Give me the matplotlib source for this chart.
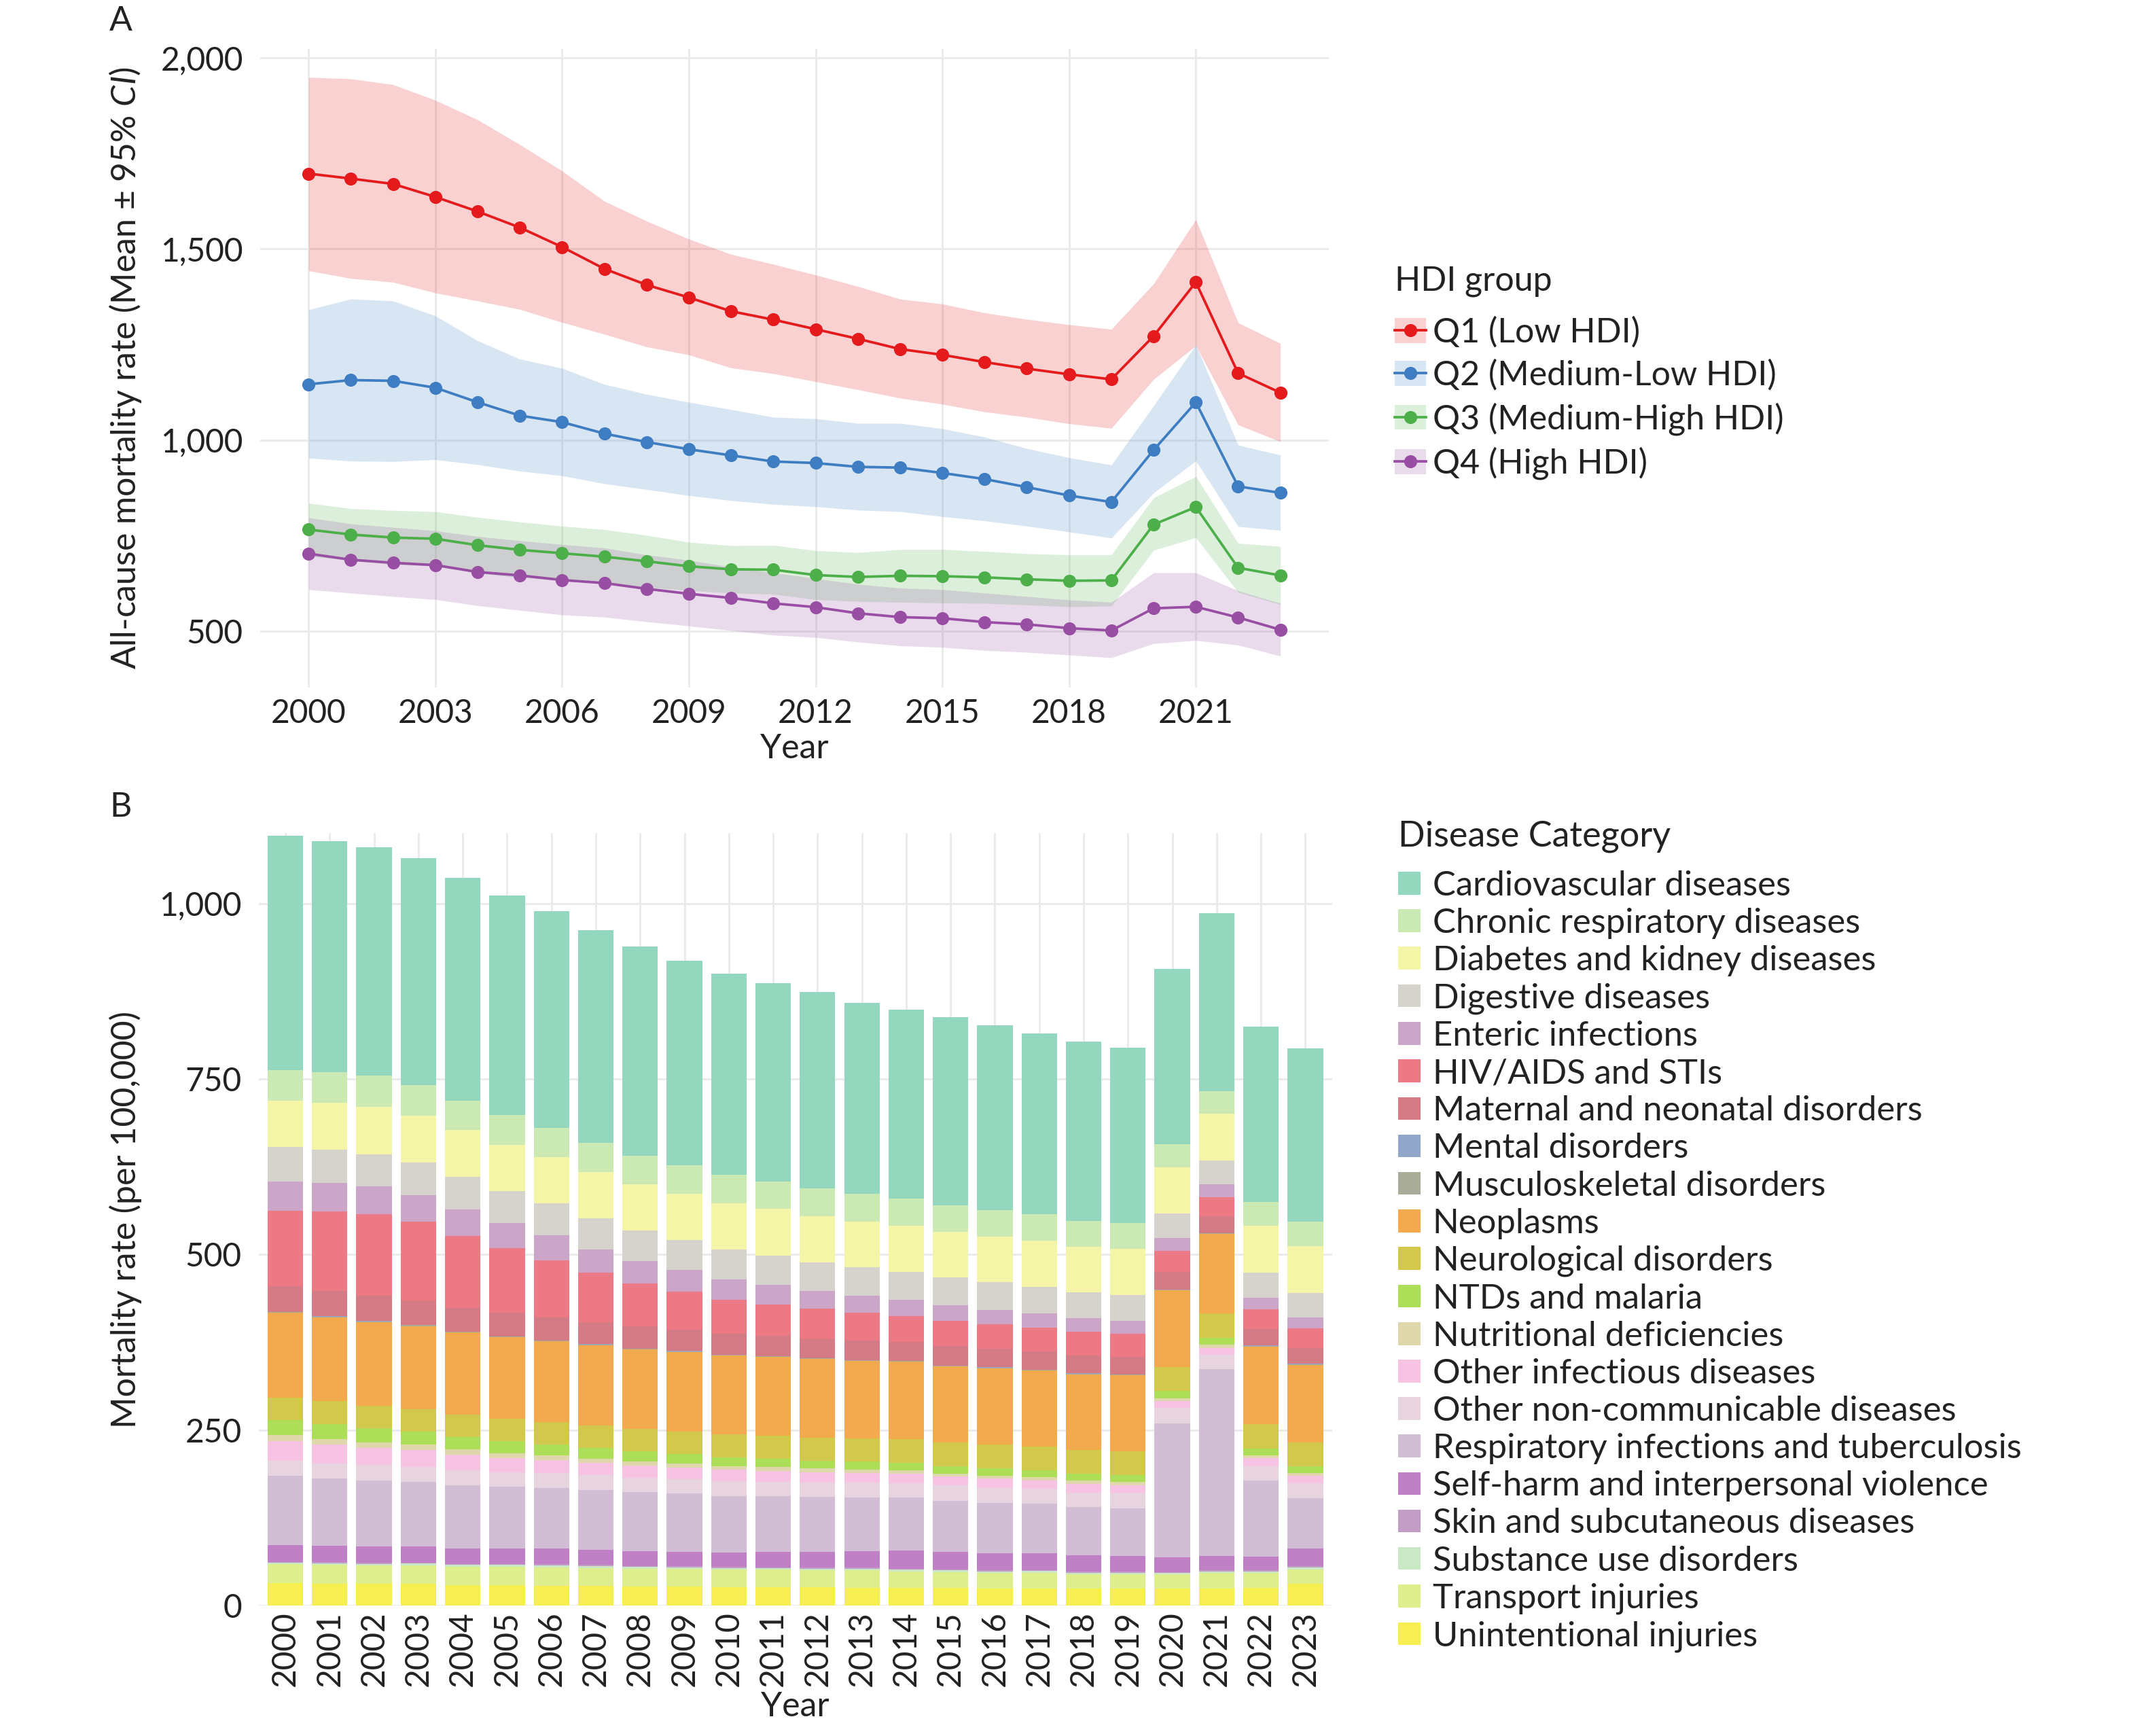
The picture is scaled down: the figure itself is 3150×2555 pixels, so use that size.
import numpy as np
import matplotlib
matplotlib.use("Agg")
import matplotlib.pyplot as plt
from matplotlib.patches import Patch
from matplotlib.lines import Line2D
from matplotlib.ticker import FuncFormatter

plt.rcParams['font.family'] = ['Lato', 'DejaVu Sans']
plt.rcParams['mathtext.fontset'] = 'custom'
plt.rcParams['mathtext.rm'] = 'Lato'
plt.rcParams['mathtext.it'] = 'Lato:italic'

TXT = '#222222'
GRID = '#EBEBEB'

# ---------------- data: panel A ----------------
years = list(range(2000, 2024))

q1_mean = [1697, 1684, 1670, 1636, 1598, 1556, 1505, 1448, 1406, 1373, 1337, 1315,
           1290, 1265, 1238, 1223, 1204, 1187, 1172, 1159, 1272, 1413, 1175, 1124]
q1_hi = [1949, 1945, 1930, 1889, 1838, 1773, 1704, 1625, 1573, 1526, 1486, 1460,
         1432, 1402, 1369, 1356, 1333, 1316, 1302, 1290, 1409, 1577, 1307, 1253]
q1_lo = [1443, 1423, 1413, 1385, 1364, 1342, 1308, 1277, 1244, 1223, 1189, 1174,
         1153, 1132, 1110, 1094, 1074, 1060, 1043, 1031, 1159, 1247, 1040, 996]

q2_mean = [1146, 1157, 1155, 1137, 1099, 1064, 1047, 1017, 995, 976, 960, 944,
           940, 930, 928, 914, 898, 877, 855, 838, 974, 1099, 879, 862]
q2_hi = [1341, 1369, 1364, 1325, 1260, 1212, 1188, 1146, 1120, 1099, 1080, 1060,
         1056, 1044, 1044, 1030, 1008, 978, 954, 935, 1090, 1249, 987, 961]
q2_lo = [953, 945, 944, 949, 936, 919, 907, 886, 871, 855, 842, 832,
         826, 817, 813, 800, 789, 775, 760, 744, 862, 946, 774, 764]

q3_mean = [766, 753, 745, 742, 725, 713, 704, 695, 683, 670, 662, 661,
           647, 642, 645, 644, 641, 636, 632, 633, 779, 825, 666, 646]
q3_hi = [835, 821, 816, 813, 798, 786, 775, 766, 751, 733, 724, 725,
         711, 706, 714, 714, 709, 703, 700, 700, 849, 905, 730, 722]
q3_lo = [697, 685, 674, 671, 652, 640, 633, 624, 615, 607, 600, 597,
         583, 578, 576, 574, 573, 569, 564, 566, 712, 745, 602, 570]

q4_mean = [703, 687, 679, 673, 655, 646, 634, 626, 611, 598, 587, 573,
           563, 547, 537, 534, 524, 518, 508, 502, 560, 564, 536, 504]
q4_hi = [797, 781, 772, 763, 748, 737, 727, 718, 700, 686, 668, 653,
         638, 623, 613, 609, 600, 591, 582, 576, 653, 653, 606, 573]
q4_lo = [609, 600, 591, 583, 567, 555, 543, 537, 525, 514, 502, 490,
         484, 472, 462, 458, 450, 445, 438, 431, 468, 476, 464, 435]

groups = ['Q1 (Low HDI)', 'Q2 (Medium-Low HDI)', 'Q3 (Medium-High HDI)', 'Q4 (High HDI)']
group_colors = ['#E41A1C', '#3F7DC2', '#4DAF4A', '#984EA3']

# ---------------- data: panel B ----------------
categories = ['Cardiovascular diseases', 'Chronic respiratory diseases',
              'Diabetes and kidney diseases', 'Digestive diseases', 'Enteric infections',
              'HIV/AIDS and STIs', 'Maternal and neonatal disorders', 'Mental disorders',
              'Musculoskeletal disorders', 'Neoplasms', 'Neurological disorders',
              'NTDs and malaria', 'Nutritional deficiencies', 'Other infectious diseases',
              'Other non-communicable diseases', 'Respiratory infections and tuberculosis',
              'Self-harm and interpersonal violence', 'Skin and subcutaneous diseases',
              'Substance use disorders', 'Transport injuries', 'Unintentional injuries']
cat_colors = ['#93D8BE', '#CBE9B2', '#F5F5A8', '#D5D3CB', '#CCA6C8', '#EC7984',
              '#D47B86', '#91A7C9', '#A9AC99', '#F3AA4E', '#D2C84C', '#ACDE58',
              '#DFD7AC', '#F6C3E3', '#E7D4DE', '#D1BED5', '#C080C6', '#C29EC6',
              '#CAE8C6', '#DFEE8C', '#F7EE52']

cardio = [333.3, 329.2, 325.1, 323.1, 316.9, 312.1, 308.1, 302.5, 297.8, 291.7, 286.2, 282.1,
          278.7, 272.5, 268.5, 267.5, 263.0, 258.2, 254.8, 250.0, 250.0, 253.5, 249.3, 247.3]
chronic_resp = [43.7, 43.1, 44.4, 43.0, 42.4, 42.4, 41.6, 41.7, 40.3, 40.9, 41.0, 38.9,
                40.3, 39.0, 39.0, 38.2, 37.6, 37.1, 37.1, 36.2, 32.8, 32.1, 34.2, 34.8]
diabetes = [66.3, 66.9, 67.0, 67.0, 66.2, 66.2, 66.3, 65.6, 66.2, 65.6, 65.6, 66.9,
            65.5, 65.5, 65.5, 65.1, 65.6, 65.6, 64.9, 66.3, 65.6, 66.2, 66.3, 66.9]
digestive = [48.5, 47.8, 46.4, 46.4, 46.5, 44.9, 45.1, 44.4, 43.8, 42.4, 42.3, 41.7,
             41.0, 40.3, 39.6, 39.1, 38.9, 38.2, 36.8, 36.8, 35.5, 34.2, 35.5, 34.2]
enteric = [42.3, 41.0, 39.6, 38.3, 37.6, 36.2, 35.5, 33.5, 32.1, 31.4, 29.4, 27.3,
           25.3, 24.6, 23.3, 22.5, 20.5, 19.8, 19.2, 18.5, 17.7, 17.7, 16.4, 15.7]
hiv = [107.3, 112.7, 115.5, 112.0, 102.4, 92.2, 81.3, 70.3, 60.8, 53.9, 47.8, 44.4,
       42.3, 39.7, 37.5, 36.2, 35.5, 34.2, 34.1, 32.8, 30.8, 28.0, 28.0, 28.0]
maternal = [36.2, 36.2, 36.2, 34.8, 34.2, 33.5, 32.8, 31.4, 31.4, 30.1, 30.1, 29.4,
            27.7, 27.3, 26.7, 27.2, 26.0, 25.9, 25.3, 24.6, 24.6, 23.3, 24.1, 22.5]
mental = [0.4, 0.4, 0.4, 0.4, 0.4, 0.4, 0.4, 0.4, 0.4, 0.4, 0.4, 0.4,
          0.4, 0.4, 0.4, 0.4, 0.4, 0.4, 0.4, 0.4, 0.4, 0.4, 0.4, 0.4]
musculo = [1.0, 1.0, 1.0, 1.0, 1.0, 1.0, 1.0, 1.0, 1.0, 1.0, 1.0, 1.0,
           1.0, 1.0, 1.0, 1.0, 1.0, 1.0, 1.0, 1.0, 1.0, 1.0, 1.0, 1.0]
neoplasms = [121.3, 119.5, 119.1, 118.2, 116.7, 116.0, 115.3, 114.8, 113.4, 113.2, 112.3, 112.2,
             111.7, 110.2, 110.2, 108.7, 108.8, 108.2, 107.6, 108.1, 109.3, 113.3, 110.4, 111.0]
neuro = [31.9, 32.6, 32.0, 32.3, 31.9, 31.9, 32.0, 31.9, 31.9, 32.6, 32.5, 32.6,
         32.9, 32.9, 33.3, 33.5, 33.8, 33.9, 33.5, 34.2, 33.6, 34.4, 34.5, 33.8]
ntds = [21.3, 21.6, 20.3, 18.7, 17.7, 17.4, 15.5, 15.5, 14.6, 13.2, 12.6, 11.9,
        11.3, 11.7, 10.6, 10.6, 10.3, 9.7, 10.4, 9.7, 10.6, 10.3, 10.4, 9.4]
nutrition = [8.7, 7.8, 7.7, 7.4, 7.1, 6.2, 6.4, 5.8, 5.8, 5.5, 4.9, 5.2,
             5.2, 5.1, 5.2, 3.9, 4.2, 4.8, 4.5, 4.5, 4.2, 4.2, 3.8, 3.9]
other_inf = [27.4, 26.4, 24.8, 23.9, 22.3, 20.3, 18.7, 17.4, 16.7, 16.8, 16.4, 15.8,
             14.8, 13.6, 13.2, 12.9, 13.1, 12.0, 12.2, 11.0, 9.4, 9.7, 11.0, 10.6]
other_ncd = [22.0, 22.0, 21.9, 21.9, 21.9, 21.0, 21.0, 21.0, 21.0, 20.6, 21.3, 20.3,
             20.4, 21.3, 21.0, 21.6, 21.7, 21.3, 20.7, 22.2, 22.2, 20.6, 21.0, 21.6]
resp_inf = [98.4, 95.4, 93.9, 91.6, 89.7, 88.0, 86.4, 85.5, 83.6, 82.9, 80.6, 79.7,
            78.7, 76.1, 74.8, 72.9, 71.6, 70.3, 68.7, 67.8, 190.4, 266.5, 108.3, 71.3]
self_harm = [24.2, 23.3, 23.6, 23.2, 21.9, 22.0, 22.3, 20.9, 21.6, 20.4, 20.0, 21.6,
             21.9, 23.2, 26.0, 25.0, 24.5, 23.9, 23.2, 22.1, 21.3, 20.3, 19.4, 24.8]
skin = [1.3, 1.6, 1.2, 1.3, 1.3, 1.3, 1.6, 1.6, 1.3, 1.6, 1.7, 1.6,
        1.6, 1.6, 1.6, 1.6, 1.3, 1.6, 1.6, 1.6, 1.6, 1.3, 1.3, 2.3]
substance = [1.9, 2.2, 2.3, 2.9, 3.3, 2.5, 3.2, 3.3, 2.2, 2.6, 2.2, 1.9,
             2.0, 2.0, 2.3, 2.6, 1.9, 2.2, 2.0, 2.0, 1.9, 1.9, 1.9, 2.6]
transport = [26.8, 27.1, 26.5, 25.8, 25.4, 25.8, 25.5, 25.5, 25.2, 25.1, 24.8, 24.9,
             24.8, 25.4, 24.0, 22.6, 22.6, 22.9, 20.9, 20.9, 20.3, 22.9, 22.0, 21.0]
unintentional = [31.9, 31.0, 30.6, 31.0, 29.4, 29.4, 28.4, 27.7, 27.4, 26.8, 26.5, 26.1,
                 25.8, 25.2, 24.8, 24.8, 24.2, 23.9, 23.9, 23.9, 23.9, 23.9, 24.8, 30.6]

series_b = [cardio, chronic_resp, diabetes, digestive, enteric, hiv, maternal, mental,
            musculo, neoplasms, neuro, ntds, nutrition, other_inf, other_ncd, resp_inf,
            self_harm, skin, substance, transport, unintentional]

# ---------------- figure ----------------
fig = plt.figure(figsize=(10.5, 8.5167), dpi=300)
axA = fig.add_axes([0.1215, 0.604, 0.4995, 0.368])
axB = fig.add_axes([0.1209, 0.0751, 0.5015, 0.445])

comma = FuncFormatter(lambda v, p: f'{int(v):,}')


def style(ax):
    for s in ax.spines.values():
        s.set_visible(False)
    ax.tick_params(length=0, labelsize=11.5, labelcolor=TXT, pad=6)
    ax.grid(True, color=GRID, linewidth=0.7)
    ax.set_axisbelow(True)


# Panel A
style(axA)
means = [q1_mean, q2_mean, q3_mean, q4_mean]
his = [q1_hi, q2_hi, q3_hi, q4_hi]
los = [q1_lo, q2_lo, q3_lo, q4_lo]
handles_a = []
for m, h, l, c in zip(means, his, los, group_colors):
    axA.fill_between(years, l, h, color=c, alpha=0.2, linewidth=0)
    axA.plot(years, m, color=c, linewidth=0.9, marker='o', markersize=3.6, zorder=3)
    handles_a.append((Patch(facecolor=c, alpha=0.2, linewidth=0),
                      Line2D([], [], color=c, linewidth=0.9, marker='o', markersize=3.6)))
axA.set_xlim(1998.85, 2024.15)
axA.set_ylim(353, 2024)
axA.set_xticks([2000, 2003, 2006, 2009, 2012, 2015, 2018, 2021])
axA.set_yticks([500, 1000, 1500, 2000])
axA.yaxis.set_major_formatter(comma)
axA.tick_params(axis='x', pad=4)
axA.set_xlabel('Year', fontsize=12, color=TXT, labelpad=1.5)
axA.set_ylabel('All-cause mortality rate (Mean ± 95% $\\mathit{CI}$)', fontsize=12,
               color=TXT, labelpad=6)

legA = fig.legend(handles_a, groups, loc='upper left', bbox_to_anchor=(0.6437, 0.857),
                  frameon=False, title='HDI group', fontsize=12, title_fontsize=12,
                  handlelength=0.92, handleheight=0.75, handletextpad=0.2,
                  labelspacing=0.33, borderpad=0, alignment='left', labelcolor=TXT)
legA.get_title().set_color(TXT)
legA._legend_box.sep = 7.0

# Panel B
style(axB)
x = np.arange(len(years))
bottom = np.zeros(len(years))
for vals, c, name in reversed(list(zip(series_b, cat_colors, categories))):
    axB.bar(x, vals, bottom=bottom, width=0.8, color=c, linewidth=0, label=name)
    bottom += np.array(vals)
axB.set_xlim(-0.6, len(years) - 0.4)
axB.set_ylim(0, 1100)
axB.set_xticks(x)
axB.set_xticklabels([str(y) for y in years], rotation=90)
axB.set_yticks([0, 250, 500, 750, 1000])
axB.yaxis.set_major_formatter(comma)
axB.tick_params(axis='x', pad=2)
axB.set_xlabel('Year', fontsize=12, color=TXT, labelpad=1.5)
axB.set_ylabel('Mortality rate (per 100,000)', fontsize=12, color=TXT, labelpad=6)

handles_b = [Patch(facecolor=c, linewidth=0) for c in cat_colors]
legB = fig.legend(handles_b, categories, loc='upper left', bbox_to_anchor=(0.6454, 0.5375),
                  frameon=False, title='Disease Category', fontsize=12.2, title_fontsize=12.5,
                  handlelength=0.64, handleheight=0.64, handletextpad=0.35,
                  labelspacing=0.18, borderpad=0, alignment='left', labelcolor=TXT)
legB.get_title().set_color(TXT)
legB._legend_box.sep = 6.3

fig.text(0.0564, 0.988, 'A', fontsize=12, color=TXT, va='center', ha='center')
fig.text(0.0564, 0.535, 'B', fontsize=12, color=TXT, va='center', ha='center')

fig.savefig('out.png', dpi=300)
